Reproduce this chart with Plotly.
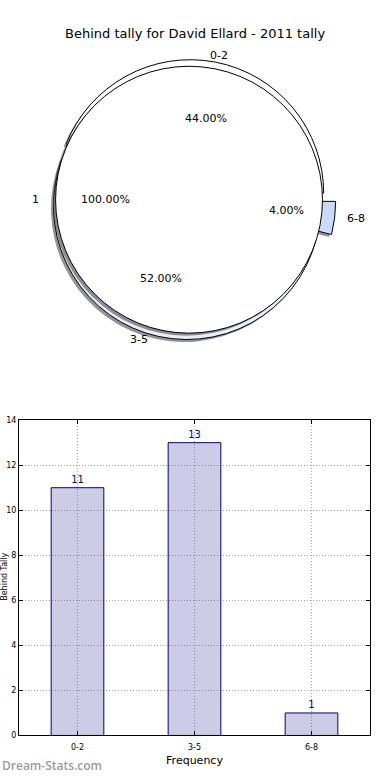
import math
import plotly.graph_objects as go

# ---- data ----
title_text = "Behind tally for David Ellard - 2011 tally"
categories = ["0-2", "3-5", "6-8"]
counts = [11, 13, 1]
pie_colors = ["#ffffff", "#e8effc", "#c8dbf9"]
pie_pull = [0.05, 0.05, 0.1]
inner_labels = ["1"]
inner_values = [1]
bar_ylabel = "Behind Tally"
bar_xlabel = "Frequency"
watermark = "Dream-Stats.com"

W, H = 390, 780
FONT = "DejaVu Sans"

# ---- pie geometry (pixels) ----
cx, cy, r = 189, 198, 135
tx_r, ty_r = 140, 129   # radii used for the text placement
maxpull = max(pie_pull)
R = r * (1 + maxpull)


def fx(x):
    return x / W


def fy(y):
    return 1 - y / H


def dom(rad, dx=0.0, dy=0.0):
    return dict(x=[fx(cx - rad + dx), fx(cx + rad + dx)],
                y=[fy(cy + rad + dy), fy(cy - rad + dy)])


# first wedge starts at 3 o'clock and the wedges run counter-clockwise
first_frac = counts[0] / float(sum(counts))
rot = 90 - 360 * first_frac

fig = go.Figure()
sh = 2.5
shadow = "rgba(60,60,60,0.55)"
common = dict(sort=False, direction="counterclockwise",
              textinfo="none", hoverinfo="skip", showlegend=False)

# outer exploded pie: shadow then wedges
fig.add_trace(go.Pie(labels=categories, values=counts, pull=pie_pull, rotation=rot,
                     domain=dom(R, -sh, sh),
                     marker=dict(colors=[shadow] * len(counts), line=dict(width=0)),
                     **common))
fig.add_trace(go.Pie(labels=categories, values=counts, pull=pie_pull, rotation=rot,
                     domain=dom(R),
                     marker=dict(colors=pie_colors, line=dict(color="black", width=1)),
                     **common))
# inner full pie "1": shadow then wedge
fig.add_trace(go.Pie(labels=inner_labels, values=inner_values,
                     domain=dom(r, -sh, sh),
                     marker=dict(colors=[shadow], line=dict(width=0)),
                     **common))
fig.add_trace(go.Pie(labels=inner_labels, values=inner_values,
                     domain=dom(r),
                     marker=dict(colors=["#ffffff"], line=dict(color="black", width=1)),
                     **common))

annotations = []


def add_text(txt, x, y, size=11, **kw):
    annotations.append(dict(text=txt, x=fx(x), y=fy(y), xref="paper", yref="paper",
                            showarrow=False, xanchor="center", yanchor="middle",
                            font=dict(family=FONT, size=size, color="black"), **kw))


def label_pie(labels, values, pulls):
    total = float(sum(values))
    start = 0.0
    for lab, v, e in zip(labels, values, pulls):
        frac = v / total
        mid = math.radians((start + frac / 2) * 360)
        start += frac
        c, s = math.cos(mid), math.sin(mid)
        add_text(lab, cx + (1.1 + e) * tx_r * c, cy - (1.1 + e) * ty_r * s)
        add_text(f"{frac * 100:.2f}%", cx + (0.6 + e) * tx_r * c, cy - (0.6 + e) * ty_r * s)


label_pie(categories, counts, pie_pull)
label_pie(inner_labels, inner_values, [0])

# title
add_text(title_text, 195, 30, size=13)

# ---- bar chart ----
fig.add_trace(go.Bar(x=categories, y=counts, width=0.45,
                     marker=dict(color="rgba(0,0,128,0.2)",
                                 line=dict(color="#000080", width=1)),
                     text=[str(v) for v in counts], textposition="outside",
                     textfont=dict(family=FONT, size=10, color="#000080"),
                     cliponaxis=False, hoverinfo="skip", showlegend=False))

axis_common = dict(showline=True, linecolor="black", linewidth=1, mirror="ticks",
                   ticks="inside", ticklen=4, tickcolor="black",
                   showgrid=True, gridcolor="#a8a8a8", griddash="1px,2px", gridwidth=1,
                   zeroline=False, tickfont=dict(family=FONT, size=8, color="black"))

fig.update_layout(
    width=W, height=H, margin=dict(l=0, r=0, t=0, b=0),
    paper_bgcolor="white", plot_bgcolor="white",
    xaxis=dict(domain=[fx(19), fx(370)], range=[-0.5, 2.5], type="category",
               ticklabelstandoff=4,
               title=dict(text=bar_xlabel, font=dict(family=FONT, size=11, color="black"),
                          standoff=5),
               **axis_common),
    yaxis=dict(domain=[fy(740), fy(421)], range=[0, 14], dtick=2,
               **axis_common),
    font=dict(family=FONT),
)

# y-axis title at the far left edge
annotations.append(dict(text=bar_ylabel, x=fx(4.5), y=fy(580), xref="paper", yref="paper",
                        showarrow=False, textangle=-90, xanchor="center", yanchor="middle",
                        font=dict(family=FONT, size=8, color="black")))
# watermark
annotations.append(dict(text=watermark, x=fx(0.5), y=fy(770), xref="paper", yref="paper",
                        showarrow=False, xanchor="left", yanchor="middle", borderpad=0,
                        font=dict(family="Open Sans", size=12, color="#9a9a9a", weight=600)))

fig.update_layout(annotations=annotations)
fig.write_html("out.html", config={"displayModeBar": False},
               post_script="document.body.style.margin='0';")
